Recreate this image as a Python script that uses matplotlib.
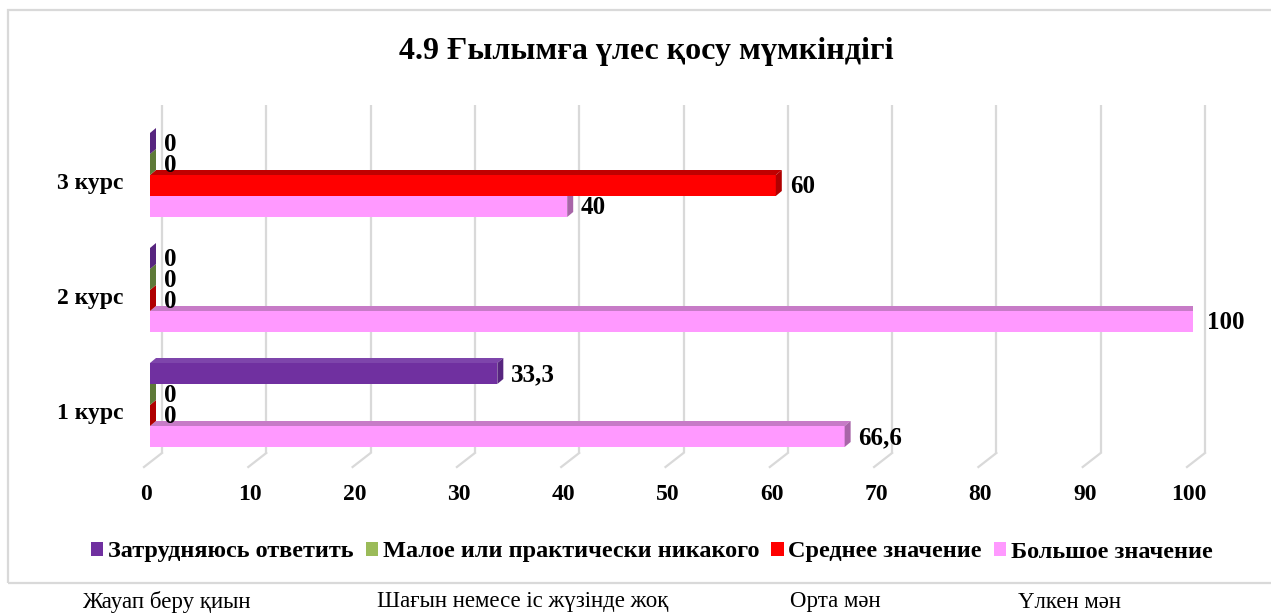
import matplotlib
matplotlib.use('Agg')
import matplotlib.pyplot as plt
import matplotlib.transforms as mtransforms
from matplotlib.patches import Polygon, Rectangle, Patch

plt.rcParams['font.family'] = ['Liberation Serif', 'DejaVu Serif']

# данные
categories = ['1 курс', '2 курс', '3 курс']
series_names = ['Затрудняюсь ответить', 'Малое или практически никакого',
                'Среднее значение', 'Большое значение']
difficult = [33.3, 0, 0]
small = [0, 0, 0]
medium = [0, 0, 60]
large = [66.6, 100, 40]
x_ticks = [0, 10, 20, 30, 40, 50, 60, 70, 80, 90, 100]
kz_labels = ['Жауап беру қиын', 'Шағын немесе іс жүзінде жоқ', 'Орта мән', 'Үлкен мән']

# цвета: фронт, верх, бок
colors = [
    ('#7030A0', '#7E45AB', '#57257F'),
    ('#9BBB59', '#6F8A40', '#5E7A38'),
    ('#FF0000', '#C00000', '#B00000'),
    ('#FF99FF', '#C77BC7', '#A865A8'),
]
legend_colors = ['#7030A0', '#9BBB59', '#FF0000', '#FF99FF']
values = [difficult, small, medium, large]

W, H = 1271, 614
fig = plt.figure(figsize=(W / 100, H / 100), dpi=100)

ax_left, ax_right, ax_top, ax_bot = 150, 1193, 105, 455
ax = fig.add_axes([ax_left / W, 1 - ax_bot / H, (ax_right - ax_left) / W, (ax_bot - ax_top) / H])

cat_px = 115.0
xmin, xmax = 0, 100
ylo = -(ax_bot - 405) / cat_px
yhi = 2 + (175 - ax_top) / cat_px
ax.set_xlim(xmin, xmax)
ax.set_ylim(ylo, yhi)

px_x = (xmax - xmin) / (ax_right - ax_left)
px_y = 1 / cat_px
dx, dy = 6 * px_x, 5 * px_y
h = 21 / cat_px

# сетка на задней стенке + диагональ пола
y_back = ylo + 2 * px_y
y_front = ylo - 12 * px_y
for t in x_ticks:
    ax.plot([t + 12 * px_x, t + 12 * px_x], [yhi, y_back], color='#D9D9D9', lw=1.6,
            zorder=1, clip_on=False, solid_capstyle='butt')
    ax.plot([t + 12 * px_x, t - 6 * px_x], [y_back, y_front], color='#D9D9D9', lw=1.6,
            zorder=1, clip_on=False)

offsets = [1.5 * h, 0.5 * h, -0.5 * h, -1.5 * h]

# рисуем снизу вверх
for s in [3, 2, 1, 0]:
    front, top, side = colors[s]
    for i, v in enumerate(values[s]):
        yc = i + offsets[s]
        y0, y1 = yc - h / 2, yc + h / 2
        z = 10 + (3 - s)
        if v > 0:
            ax.barh(yc, v, height=h, color=front, zorder=z, linewidth=0)
            ax.add_patch(Polygon([(0, y1), (v, y1), (v + dx, y1 + dy), (dx, y1 + dy)],
                                 closed=True, facecolor=top, edgecolor='none', zorder=z))
        ax.add_patch(Polygon([(v, y0), (v + dx, y0 + dy), (v + dx, y1 + dy), (v, y1)],
                             closed=True, facecolor=side, edgecolor='none', zorder=z))
        lbl = ('%g' % v).replace('.', ',')
        ax.annotate(lbl, (v, yc), xytext=(10, -1), textcoords='offset points',
                    ha='left', va='center', fontsize=18, fontweight='bold', zorder=20)

for sp in ax.spines.values():
    sp.set_visible(False)
ax.set_facecolor('none')

ax.set_xticks(x_ticks)
ax.set_xticklabels([str(t) for t in x_ticks], fontsize=17, fontweight='bold')
ax.tick_params(axis='x', length=0, pad=21)
ax.set_yticks(range(len(categories)))
ax.set_yticklabels(categories, fontsize=17, fontweight='bold')
ax.tick_params(axis='y', length=0, pad=19)

shift = mtransforms.ScaledTranslation(0, -6 / 100, fig.dpi_scale_trans)
for t in ax.get_yticklabels():
    t.set_transform(t.get_transform() + shift)
shift_x = mtransforms.ScaledTranslation(-4 / 100, 0, fig.dpi_scale_trans)
for t in ax.get_xticklabels():
    t.set_transform(t.get_transform() + shift_x)

# заголовок
fig.text(646 / W, 1 - 51 / H, '4.9 Ғылымға үлес қосу мүмкіндігі', ha='center', va='center',
         fontsize=23, fontweight='bold')

# легенда
handles = [Patch(facecolor=c, edgecolor='none') for c in legend_colors]
fig.legend(handles, series_names, loc='center', bbox_to_anchor=(652 / W, 1 - 552 / H),
           ncol=4, frameon=False, prop={'weight': 'bold', 'size': 17.5},
           handlelength=0.5, handleheight=0.5, handletextpad=0.2, columnspacing=0.5)

# рамка
fig.patches.append(Rectangle((8 / W, 1 - 583 / H), (W + 10) / W, 573 / H,
                             transform=fig.transFigure, fill=False,
                             edgecolor='#D9D9D9', lw=1.6))

# подписи на казахском под рамкой
kz_x = [82, 377, 790, 1018]
for x, t in zip(kz_x, kz_labels):
    fig.text(x / W, 1 - 602 / H, t, ha='left', va='center', fontsize=16.5)

fig.savefig('out.png', dpi=100)
